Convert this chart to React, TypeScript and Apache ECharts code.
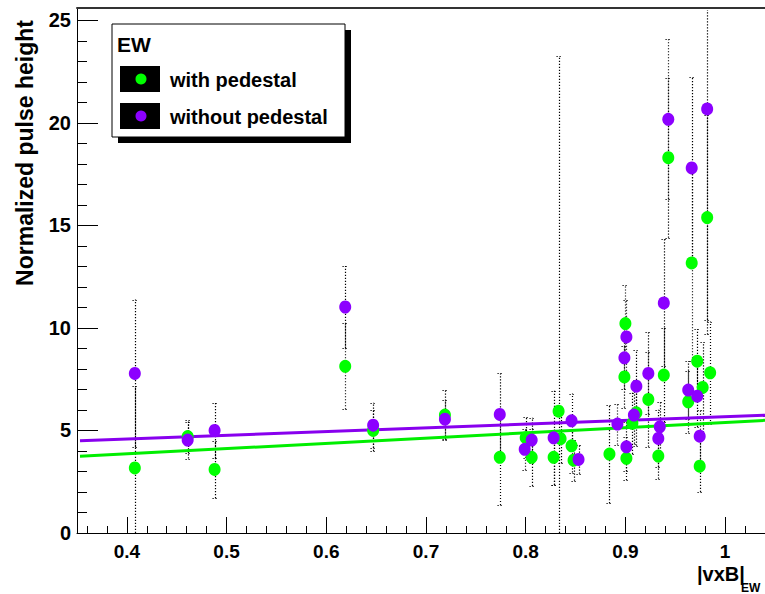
import React, { useEffect, useRef } from 'react';
import * as echarts from 'echarts';

// "with pedestal" (green)
const greenX = [0.408, 0.461, 0.488, 0.619, 0.647, 0.719, 0.774, 0.8, 0.806, 0.828, 0.833, 0.835, 0.846, 0.848, 0.884, 0.899, 0.9, 0.901, 0.907, 0.911, 0.923, 0.933, 0.9385, 0.943, 0.963, 0.9665, 0.972, 0.9745, 0.9775, 0.982, 0.985];
const greenY = [3.17, 4.7, 3.1, 8.13, 5.0, 5.75, 3.69, 4.65, 3.69, 3.69, 5.94, 4.6, 4.25, 3.55, 3.85, 7.61, 10.21, 3.64, 5.35, 5.86, 6.51, 3.75, 7.7, 18.3, 6.4, 13.17, 8.38, 3.26, 7.1, 15.38, 7.81];
const greenErr = [4.0, 0.8, 1.4, 2.1, 1.0, 1.2, 2.33, 1.0, 1.4, 1.35, 17.3, 1.2, 1.3, 1.0, 2.4, 1.5, 1.9, 1.06, 1.5, 1.6, 2.3, 1.1, 2.3, 3.9, 1.5, 4.8, 1.55, 1.26, 2.2, 5.0, 2.5];

// "without pedestal" (purple)
const purpleX = [0.408, 0.461, 0.488, 0.619, 0.647, 0.719, 0.774, 0.799, 0.806, 0.828, 0.846, 0.853, 0.892, 0.899, 0.901, 0.901, 0.9085, 0.911, 0.923, 0.9345, 0.933, 0.9385, 0.943, 0.963, 0.9665, 0.972, 0.9745, 0.982];
const purpleY = [7.78, 4.53, 5.0, 11.02, 5.26, 5.55, 5.78, 4.08, 4.53, 4.64, 5.47, 3.59, 5.31, 8.54, 9.56, 4.2, 5.75, 7.16, 7.78, 5.18, 4.61, 11.22, 20.17, 6.97, 17.8, 6.67, 4.72, 20.68];
const purpleErr = [3.6, 0.9, 1.35, 2.0, 1.1, 0.95, 2.0, 1.0, 1.1, 2.3, 1.33, 0.7, 1.0, 1.5, 1.8, 1.2, 1.4, 1.75, 2.0, 1.2, 1.4, 3.1, 3.9, 1.4, 4.45, 1.5, 1.3, 11.0];

// linear fits: [green, purple]
const fitIntercepts = [2.84, 3.85];
const fitSlopes = [2.55, 1.82];
const fitRange = [0.353, 1.04];

const xTickLabels = [0.4, 0.5, 0.6, 0.7, 0.8, 0.9, 1];
const xMinorTicks = [0.36, 0.38, 0.42, 0.44, 0.46, 0.48, 0.52, 0.54, 0.56, 0.58, 0.62, 0.64, 0.66, 0.68, 0.72, 0.74, 0.76, 0.78, 0.82, 0.84, 0.86, 0.88, 0.92, 0.94, 0.96, 0.98, 1.02, 1.04];
const yTickLabels = [0, 5, 10, 15, 20, 25];
const yMinorTicks = [1, 2, 3, 4, 6, 7, 8, 9, 11, 12, 13, 14, 16, 17, 18, 19, 21, 22, 23, 24];

const GREEN = '#00ff00';
const PURPLE = '#8c00ff';
const FONT = '"Liberation Sans", Arial, Helvetica, sans-serif';

const X_MIN = 0.35;
const X_MAX = 1.04;
const Y_MIN = 0;
const Y_MAX = 25.6;

function errData(xs: number[], ys: number[], es: number[]) {
  return xs.map((x, i) => [x, ys[i] - es[i], ys[i] + es[i]]);
}

function fitData(k: number) {
  return fitRange.map((x) => [x, fitIntercepts[k] + fitSlopes[k] * x]);
}

const errorRender = (params: any, api: any) => {
  const x = api.value(0);
  const lo = api.value(1);
  const hi = api.value(2);
  const p1 = api.coord([x, lo]);
  const p2 = api.coord([x, hi]);
  const cs = params.coordSys;
  const top = cs.y;
  const bottom = cs.y + cs.height;
  const px = Math.round(p1[0]) + 0.5;
  const y1 = Math.min(p1[1], bottom);
  const y2 = Math.max(p2[1], top + 2);
  const style = { stroke: '#000', lineWidth: 1.2, lineDash: [1.2, 1.8] };
  const children: any[] = [
    { type: 'line', shape: { x1: px, y1, x2: px, y2 }, style },
  ];
  if (p2[1] >= top) {
    const cy = Math.round(p2[1]) + 0.5;
    children.push({ type: 'line', shape: { x1: px - 3, y1: cy, x2: px + 3, y2: cy }, style });
  }
  if (p1[1] <= bottom) {
    const cy = Math.round(p1[1]) + 0.5;
    children.push({ type: 'line', shape: { x1: px - 3, y1: cy, x2: px + 3, y2: cy }, style });
  }
  return { type: 'group', children };
};

export default function App() {
  const ref = useRef<HTMLDivElement>(null);
  useEffect(() => {
    document.body.style.margin = '0';
    const chart = echarts.init(ref.current!, null, { renderer: 'svg' });
    const labelStyle = { color: '#000', fontFamily: FONT, fontWeight: 'bold' as const };
    chart.setOption({
      animation: false,
      backgroundColor: '#fff',
      grid: { left: 77, right: 0, top: 8, bottom: 61, containLabel: false },
      xAxis: [
        {
          type: 'value', min: X_MIN, max: X_MAX, position: 'bottom',
          axisLine: { onZero: false, lineStyle: { color: '#000', width: 1 } },
          axisTick: { inside: true, length: 16, customValues: xTickLabels, lineStyle: { color: '#000', width: 1 } },
          axisLabel: { ...labelStyle, customValues: xTickLabels, fontSize: 19, margin: 9 },
          splitLine: { show: false },
        },
        {
          type: 'value', min: X_MIN, max: X_MAX, position: 'bottom',
          axisLine: { show: false, onZero: false },
          axisTick: { inside: true, length: 7, customValues: xMinorTicks, lineStyle: { color: '#000', width: 1 } },
          axisLabel: { show: false },
          splitLine: { show: false },
        },
        {
          type: 'value', min: X_MIN, max: X_MAX, position: 'top',
          axisLine: { onZero: false, lineStyle: { color: '#333', width: 2 } },
          axisTick: { show: false },
          axisLabel: { show: false },
          splitLine: { show: false },
        },
      ],
      yAxis: [
        {
          type: 'value', min: Y_MIN, max: Y_MAX, position: 'left',
          axisLine: { show: true, onZero: false, lineStyle: { color: '#000', width: 1 } },
          axisTick: { show: true, inside: true, length: 21, customValues: yTickLabels, lineStyle: { color: '#000', width: 1 } },
          axisLabel: { ...labelStyle, customValues: yTickLabels, fontSize: 20, margin: 6 },
          splitLine: { show: false },
        },
        {
          type: 'value', min: Y_MIN, max: Y_MAX, position: 'left',
          axisLine: { show: false, onZero: false },
          axisTick: { show: true, inside: true, length: 10, customValues: yMinorTicks, lineStyle: { color: '#000', width: 1 } },
          axisLabel: { show: false },
          splitLine: { show: false },
        },
      ],
      series: [
        {
          type: 'custom', name: 'err green', renderItem: errorRender, clip: true, z: 1,
          data: errData(greenX, greenY, greenErr), encode: { x: 0, y: [1, 2] },
        },
        {
          type: 'custom', name: 'err purple', renderItem: errorRender, clip: true, z: 1,
          data: errData(purpleX, purpleY, purpleErr), encode: { x: 0, y: [1, 2] },
        },
        {
          type: 'line', name: 'fit green', data: fitData(0), symbol: 'none', z: 2,
          lineStyle: { color: '#00ee00', width: 3 },
        },
        {
          type: 'line', name: 'fit purple', data: fitData(1), symbol: 'none', z: 2,
          lineStyle: { color: '#8800ee', width: 3 },
        },
        {
          type: 'scatter', name: 'with pedestal', z: 3,
          data: greenX.map((x, i) => [x, greenY[i]]),
          symbol: 'circle', symbolSize: [12, 13],
          itemStyle: { color: GREEN, opacity: 1 },
        },
        {
          type: 'scatter', name: 'without pedestal', z: 4,
          data: purpleX.map((x, i) => [x, purpleY[i]]),
          symbol: 'circle', symbolSize: [12, 13],
          itemStyle: { color: PURPLE, opacity: 1 },
        },
      ],
      graphic: [
        // legend shadow + box
        { type: 'rect', shape: { x: 118, y: 30, width: 233, height: 113 }, style: { fill: '#000' }, z: 10 },
        { type: 'rect', shape: { x: 112, y: 24, width: 233, height: 113 }, style: { fill: '#fff', stroke: '#000', lineWidth: 1 }, z: 11 },
        { type: 'text', x: 117, y: 44, style: { text: 'EW', fontSize: 21, fontWeight: 'bold', fontFamily: FONT, fill: '#000', textVerticalAlign: 'middle' }, z: 12 },
        { type: 'rect', shape: { x: 120, y: 66, width: 40, height: 26 }, style: { fill: '#000' }, z: 12 },
        { type: 'circle', shape: { cx: 141, cy: 79, r: 5.5 }, style: { fill: GREEN }, z: 13 },
        { type: 'text', x: 170, y: 80, style: { text: 'with pedestal', fontSize: 20, fontWeight: 'bold', fontFamily: FONT, fill: '#000', textVerticalAlign: 'middle' }, z: 12 },
        { type: 'rect', shape: { x: 120, y: 103, width: 40, height: 26 }, style: { fill: '#000' }, z: 12 },
        { type: 'circle', shape: { cx: 141, cy: 116, r: 5.5 }, style: { fill: PURPLE }, z: 13 },
        { type: 'text', x: 170, y: 117, style: { text: 'without pedestal', fontSize: 20, fontWeight: 'bold', fontFamily: FONT, fill: '#000', textVerticalAlign: 'middle' }, z: 12 },
        // axis titles
        { type: 'text', x: 25, y: 153, rotation: Math.PI / 2, style: { text: 'Normalized pulse height', fontSize: 23, fontWeight: 'bold', fontFamily: FONT, fill: '#000', textAlign: 'center', textVerticalAlign: 'middle' }, z: 12 },
        { type: 'text', x: 697, y: 574, style: { text: '|vxB|', fontSize: 20, fontWeight: 'bold', fontFamily: FONT, fill: '#000', textVerticalAlign: 'middle' }, z: 12 },
        { type: 'text', x: 741, y: 588, style: { text: 'EW', fontSize: 12, fontWeight: 'bold', fontFamily: FONT, fill: '#000', textVerticalAlign: 'middle' }, z: 12 },
      ],
    });
    return () => chart.dispose();
  }, []);
  return <div ref={ref} style={{ position: 'absolute', left: 0, top: 0, width: 765, height: 594 }} />;
}
